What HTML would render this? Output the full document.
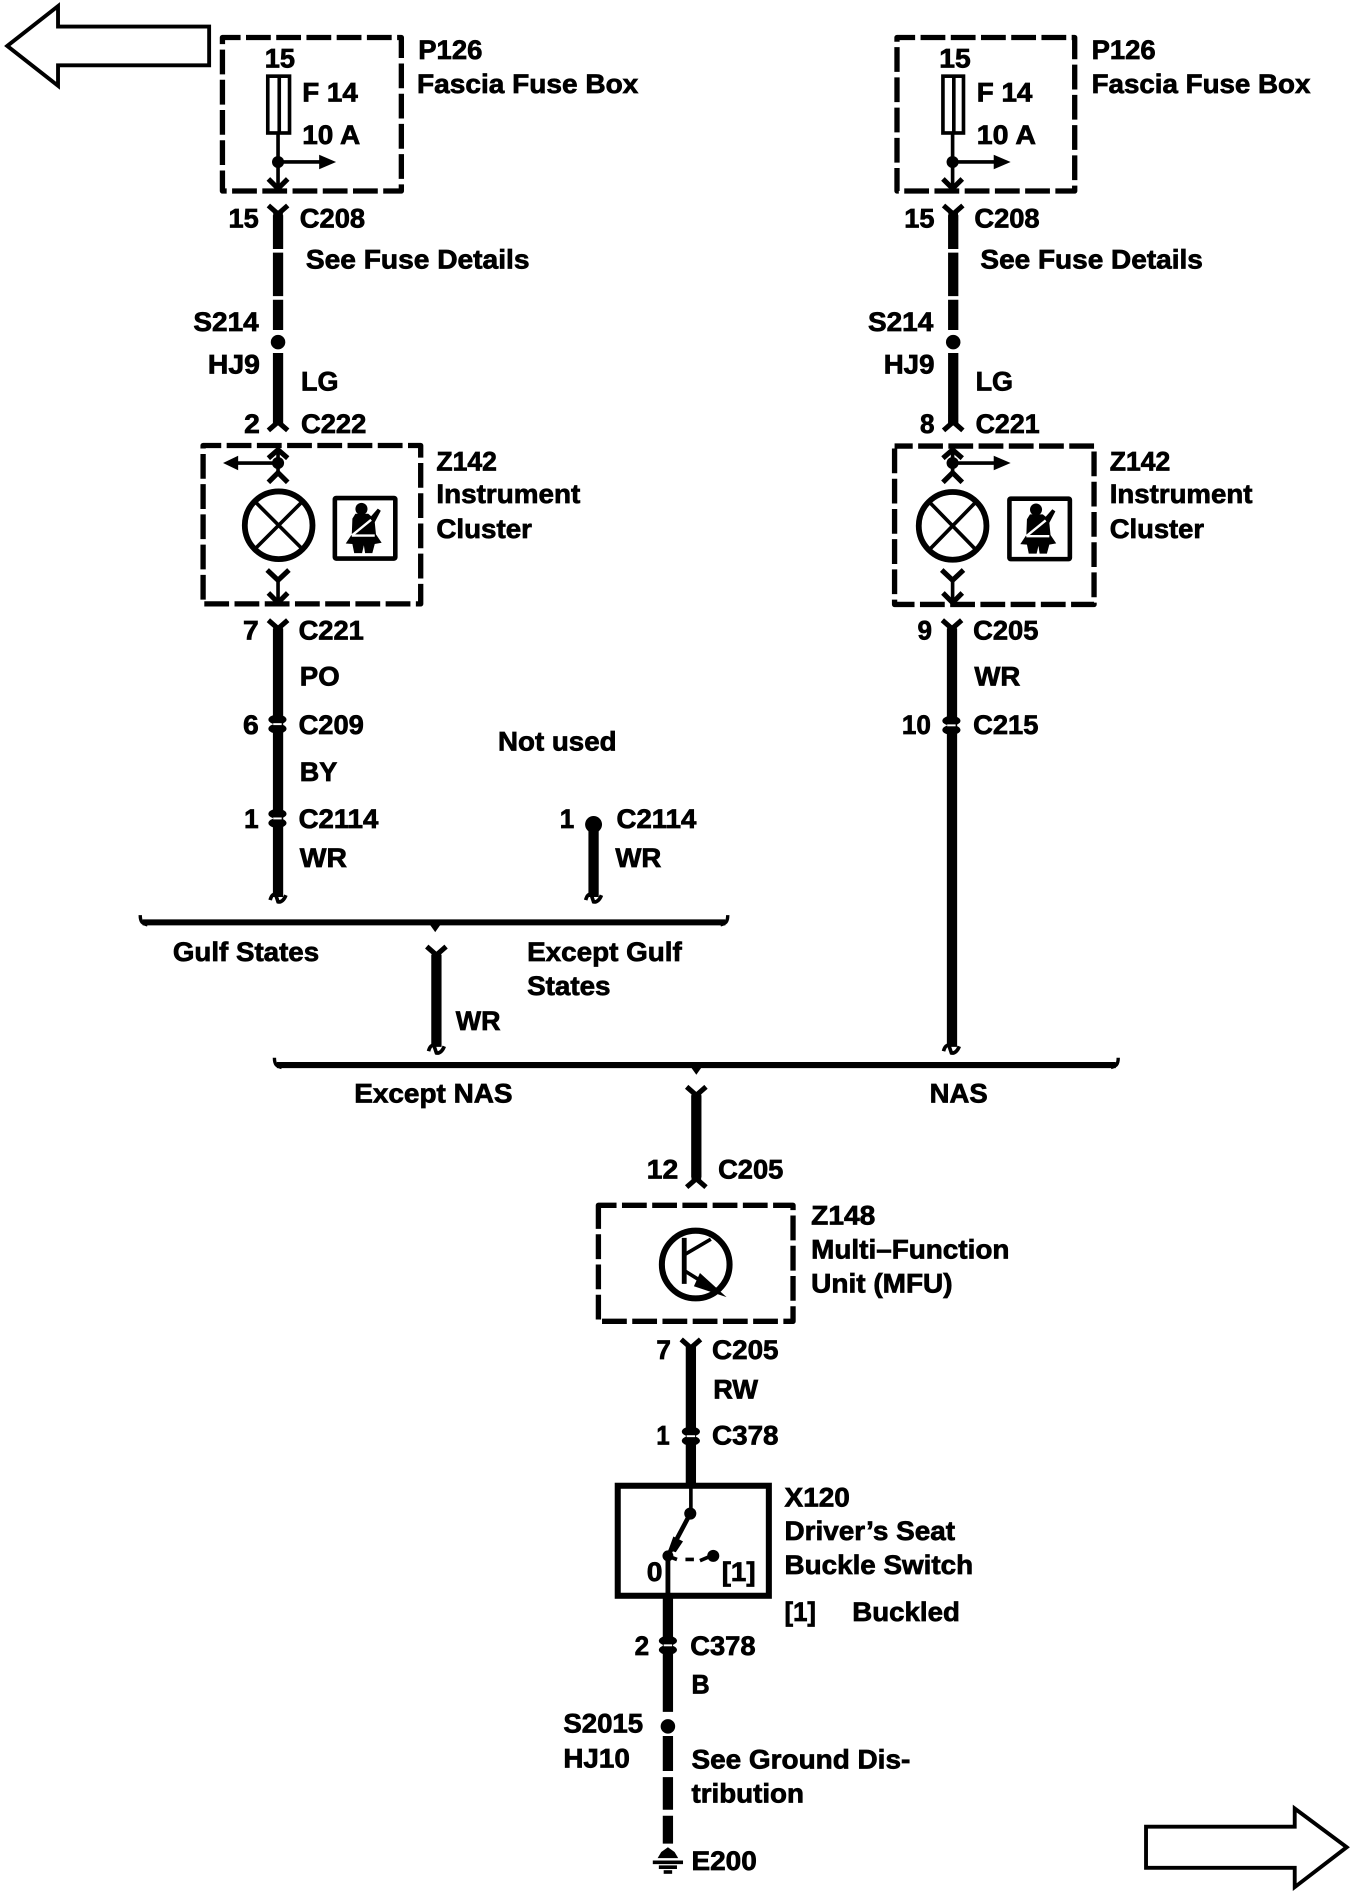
<!DOCTYPE html>
<html><head><meta charset="utf-8"><style>
html,body{margin:0;padding:0;background:#fff}
svg{display:block}
text{font-family:"Liberation Sans",sans-serif;font-weight:bold;font-size:22px;fill:#000;stroke:#000;stroke-width:.6}
.d{fill:none;stroke:#000;stroke-width:4.4;stroke-dasharray:20.5 4.5;stroke-dashoffset:5.5;stroke-linejoin:round}
.w{stroke:#000;stroke-width:8.5;fill:none}
.t{stroke:#000;stroke-width:3;fill:none}
.f{stroke:#000;stroke-width:4.2;fill:none}
</style></head><body>
<svg width="1360" height="1894" viewBox="0 0 1125 1566.7" preserveAspectRatio="none" xmlns="http://www.w3.org/2000/svg">
<defs>
<g id="yt"><path class="f" d="M-8 0 L0 7 L8 0"/><path d="M-4 5h8v8h-8z"/></g>
<g id="yb"><path class="f" d="M-8 0 L0 -7 L8 0"/><path d="M-4 -5h8v-8h-8z"/></g>
<g id="cn"><ellipse cx="0" cy="-3.800" rx="7.500" ry="4"/><ellipse cx="0" cy="3.800" rx="7.500" ry="4"/><path d="M-3.500 -.8h7v1.600h-7z" fill="#fff"/></g>
<g id="cb"><path d="M-6.500 1.500 C-5.500 -2.500 -3.500 -4 -2 -3 L0 3 C2.500 3.500 5 1.500 6.500 -2.500" fill="none" stroke="#000" stroke-width="3"/></g>
<g id="belt">
<rect x="0" y="0" width="50" height="50" rx="1" fill="#fff" stroke="#000" stroke-width="3.800"/>
<circle cx="22" cy="9" r="5"/>
<path d="M14.500 17 L17 13 L27.600 13 L30 15 L35.500 8.700 L38 10.500 L33 20 L34 30 L38.700 37 L33 38 L31 45.500 L25 45.500 L24 39 L22.500 45.500 L16 45.500 L14.500 38 L9 37.600 L14 30Z"/>
<path d="M14 31 L30 18 M14 31 H33" fill="none" stroke="#fff" stroke-width="2"/>
</g>
</defs>

<path d="M6 38 L48 5 V22 H173 V54 H48 V71 Z" fill="#fff" stroke="#000" stroke-width="3.200"/>
<path d="M1114 1528 L1071 1496 V1511 H948 V1545 H1071 V1561 Z" fill="#fff" stroke="#000" stroke-width="3.200"/>

<!-- left fuse box -->
<rect class="d" x="184" y="31" width="148" height="127"/>
<rect x="221.500" y="63" width="18" height="47" fill="#fff" stroke="#000" stroke-width="3"/>
<path class="t" d="M231 63V110M230 110V156"/>
<circle cx="230" cy="134" r="5"/>
<path class="t" d="M230 134H266"/><path d="M264 128 L278 134 L264 140Z"/>
<path class="f" d="M222 148 L230 156 L238 148"/>
<!-- right fuse box -->
<rect class="d" x="742" y="31" width="147" height="127"/>
<rect x="780" y="63" width="17" height="47" fill="#fff" stroke="#000" stroke-width="3"/>
<path class="t" d="M789 63V110M788 110V156"/>
<circle cx="788" cy="134" r="5"/>
<path class="t" d="M788 134H824"/><path d="M822 128 L836 134 L822 140Z"/>
<path class="f" d="M780 148 L788 156 L796 148"/>

<!-- left top wire -->
<use href="#yt" x="230" y="170"/>
<path class="w" d="M230 178V206M230 209V245M230 248V273M230 292V352"/>
<circle cx="230" cy="283" r="6"/>
<use href="#yb" x="230" y="356"/>
<!-- right top wire -->
<use href="#yt" x="788.500" y="170"/>
<path class="w" d="M788.500 178V206M788.500 209V245M788.500 248V273M788.500 292V352"/>
<circle cx="788.500" cy="283" r="6"/>
<use href="#yb" x="788.500" y="356"/>

<!-- Z142 left -->
<rect class="d" x="168" y="368.500" width="180" height="131"/>
<path class="f" d="M222 379 L230 372 L238 379"/>
<path class="t" d="M230 372V392"/>
<circle cx="230" cy="383" r="5"/>
<path class="f" d="M222 399 L230 391 L238 399"/>
<path class="t" d="M230 383H195"/><path d="M197 377 L184.500 383 L197 389Z"/>
<circle cx="230.500" cy="434.500" r="28" fill="#fff" stroke="#000" stroke-width="4.800"/>
<path class="t" d="M211 415 L250 454 M250 415 L211 454"/>
<use href="#belt" x="277" y="412"/>
<path class="f" d="M221 471.500 L230 480 L239 471.500"/>
<path class="t" d="M230 480V498"/>
<path class="f" d="M222 490.500 L230 498.500 L238 490.500"/>
<!-- Z142 right -->
<rect class="d" x="740" y="369" width="165" height="131"/>
<path class="f" d="M780 379 L788 372 L796 379"/>
<path class="t" d="M788 372V392"/>
<circle cx="788" cy="383" r="5"/>
<path class="f" d="M780 399 L788 391 L796 399"/>
<path class="t" d="M788 383H824"/><path d="M822 377 L836 383 L822 389Z"/>
<circle cx="788" cy="435" r="28" fill="#fff" stroke="#000" stroke-width="4.800"/>
<path class="t" d="M769 415.500 L807 454.500 M807 415.500 L769 454.500"/>
<use href="#belt" x="835" y="412.500"/>
<path class="f" d="M779 471.500 L788 480 L797 471.500"/>
<path class="t" d="M788 480V498"/>
<path class="f" d="M780 490.500 L788 498.500 L796 490.500"/>

<!-- lower left -->
<use href="#yt" x="230" y="513"/>
<path class="w" d="M230 520V742" stroke-width="8"/>
<use href="#cn" x="229.500" y="599"/>
<use href="#cn" x="229.500" y="677"/>
<use href="#cb" x="230" y="743"/>
<circle cx="491" cy="682" r="7"/>
<path class="w" d="M491 682V742" stroke-width="8"/>
<use href="#cb" x="491" y="743"/>

<!-- lower right -->
<use href="#yt" x="787.500" y="513"/>
<path class="w" d="M787.500 520V866" stroke-width="8"/>
<use href="#cn" x="787" y="600"/>
<use href="#cb" x="787" y="868"/>

<!-- bus 1 -->
<path d="M116 757 C116 763 118 764 122 765" fill="none" stroke="#000" stroke-width="2.800"/>
<path d="M602 757 C602 763 600 764 596 765" fill="none" stroke="#000" stroke-width="2.800"/>
<path d="M118 763H600" stroke="#000" stroke-width="5"/>
<path d="M355 764 L360 771 L365 764Z"/>
<use href="#yt" x="361" y="783"/>
<path class="w" d="M361 790V866" stroke-width="7.500"/>
<use href="#cb" x="361" y="868"/>

<!-- bus 2 -->
<path d="M227 875 C227 881 229 882 233 883" fill="none" stroke="#000" stroke-width="2.800"/>
<path d="M925 875 C925 881 923 882 919 883" fill="none" stroke="#000" stroke-width="2.800"/>
<path d="M229 881H923" stroke="#000" stroke-width="5"/>
<path d="M571 882 L576 889 L581 882Z"/>
<use href="#yt" x="576" y="899"/>
<path class="w" d="M576 906V974"/>
<use href="#yb" x="576" y="982"/>

<!-- Z148 -->
<rect class="d" x="495" y="997" width="161" height="96"/>
<circle cx="575.500" cy="1046" r="28" fill="#fff" stroke="#000" stroke-width="5"/>
<path d="M564 1024h4v38h-4z"/>
<path class="t" d="M566 1038 L588 1025 M566 1051 L590 1066"/>
<path d="M579 1053 L601 1073 L574 1064Z"/>

<use href="#yt" x="571.500" y="1108"/>
<path class="w" d="M571.500 1114V1228"/>
<use href="#cn" x="571.500" y="1188"/>

<!-- switch -->
<rect x="511" y="1229" width="125" height="91" fill="#fff" stroke="#000" stroke-width="5"/>
<path d="M567.500 1226h8v4h-8z"/>
<path class="t" d="M571.500 1230V1252"/>
<circle cx="571" cy="1252" r="5"/>
<path d="M571 1252 L553 1286" stroke="#000" stroke-width="3.800"/>
<path d="M557 1271 L565 1275 L559 1284 L553 1282Z"/>
<circle cx="552.500" cy="1287" r="4.500"/>
<path d="M552 1287 L560 1290 M567 1290 H574 M579 1291 L586 1288" stroke="#000" stroke-width="3" fill="none"/>
<circle cx="590" cy="1287" r="5"/>
<path d="M552.500 1287V1320" stroke="#000" stroke-width="4"/>

<path class="w" d="M552.500 1322V1416"/>
<use href="#cn" x="552.500" y="1361"/>
<circle cx="552.500" cy="1428" r="6"/>
<path class="w" d="M552.500 1436V1465M552.500 1470V1497M552.500 1502V1525"/>
<!-- ground -->
<path d="M552.500 1528 L558 1532 L561 1537 H544 L547 1532Z"/>
<path d="M540 1540.500H565" stroke="#000" stroke-width="3"/>
<path d="M545 1544.500H560" stroke="#000" stroke-width="3"/>
<path d="M549 1548.500H556" stroke="#000" stroke-width="3"/>

<!-- labels left -->
<text x="346" y="49" textLength="53" lengthAdjust="spacingAndGlyphs">P126</text>
<text x="345" y="77" textLength="183" lengthAdjust="spacingAndGlyphs">Fascia Fuse Box</text>
<text x="219" y="56" textLength="25" lengthAdjust="spacingAndGlyphs">15</text>
<text x="250" y="84" textLength="46" lengthAdjust="spacingAndGlyphs">F 14</text>
<text x="250" y="119" textLength="48" lengthAdjust="spacingAndGlyphs">10 A</text>
<text x="189" y="188" textLength="25" lengthAdjust="spacingAndGlyphs">15</text>
<text x="248" y="188" textLength="54" lengthAdjust="spacingAndGlyphs">C208</text>
<text x="253" y="222" textLength="185" lengthAdjust="spacingAndGlyphs">See Fuse Details</text>
<text x="160" y="274" textLength="54" lengthAdjust="spacingAndGlyphs">S214</text>
<text x="172" y="309" textLength="43" lengthAdjust="spacingAndGlyphs">HJ9</text>
<text x="249" y="323" textLength="31" lengthAdjust="spacingAndGlyphs">LG</text>
<text x="202" y="358" textLength="13" lengthAdjust="spacingAndGlyphs">2</text>
<text x="249" y="358" textLength="54" lengthAdjust="spacingAndGlyphs">C222</text>
<text x="361" y="389" textLength="50" lengthAdjust="spacingAndGlyphs">Z142</text>
<text x="361" y="416" textLength="119" lengthAdjust="spacingAndGlyphs">Instrument</text>
<text x="361" y="445" textLength="79" lengthAdjust="spacingAndGlyphs">Cluster</text>
<text x="201" y="529" textLength="13" lengthAdjust="spacingAndGlyphs">7</text>
<text x="247" y="529" textLength="54" lengthAdjust="spacingAndGlyphs">C221</text>
<text x="248" y="567" textLength="33" lengthAdjust="spacingAndGlyphs">PO</text>
<text x="201" y="607" textLength="13" lengthAdjust="spacingAndGlyphs">6</text>
<text x="247" y="607" textLength="54" lengthAdjust="spacingAndGlyphs">C209</text>
<text x="412" y="621" textLength="98" lengthAdjust="spacingAndGlyphs">Not used</text>
<text x="248" y="646" textLength="31" lengthAdjust="spacingAndGlyphs">BY</text>
<text x="202" y="685" textLength="12" lengthAdjust="spacingAndGlyphs">1</text>
<text x="247" y="685" textLength="66" lengthAdjust="spacingAndGlyphs">C2114</text>
<text x="248" y="717" textLength="39" lengthAdjust="spacingAndGlyphs">WR</text>
<text x="463" y="685" textLength="12" lengthAdjust="spacingAndGlyphs">1</text>
<text x="510" y="685" textLength="66" lengthAdjust="spacingAndGlyphs">C2114</text>
<text x="509" y="717" textLength="38" lengthAdjust="spacingAndGlyphs">WR</text>
<text x="143" y="795" textLength="121" lengthAdjust="spacingAndGlyphs">Gulf States</text>
<text x="436" y="795" textLength="128" lengthAdjust="spacingAndGlyphs">Except Gulf</text>
<text x="436" y="823" textLength="69" lengthAdjust="spacingAndGlyphs">States</text>
<text x="377" y="852" textLength="37" lengthAdjust="spacingAndGlyphs">WR</text>
<text x="293" y="912" textLength="131" lengthAdjust="spacingAndGlyphs">Except NAS</text>
<text x="769" y="912" textLength="48" lengthAdjust="spacingAndGlyphs">NAS</text>
<text x="535" y="975" textLength="26" lengthAdjust="spacingAndGlyphs">12</text>
<text x="594" y="975" textLength="54" lengthAdjust="spacingAndGlyphs">C205</text>
<text x="671" y="1013" textLength="53" lengthAdjust="spacingAndGlyphs">Z148</text>
<text x="671" y="1041" textLength="164" lengthAdjust="spacingAndGlyphs">Multi–Function</text>
<text x="671" y="1069" textLength="117" lengthAdjust="spacingAndGlyphs">Unit (MFU)</text>
<text x="543" y="1124" textLength="12" lengthAdjust="spacingAndGlyphs">7</text>
<text x="589" y="1124" textLength="55" lengthAdjust="spacingAndGlyphs">C205</text>
<text x="590" y="1157" textLength="37" lengthAdjust="spacingAndGlyphs">RW</text>
<text x="543" y="1195" textLength="11" lengthAdjust="spacingAndGlyphs">1</text>
<text x="589" y="1195" textLength="55" lengthAdjust="spacingAndGlyphs">C378</text>
<text x="649" y="1246" textLength="54" lengthAdjust="spacingAndGlyphs">X120</text>
<text x="649" y="1274" textLength="141" lengthAdjust="spacingAndGlyphs">Driver’s Seat</text>
<text x="649" y="1302" textLength="156" lengthAdjust="spacingAndGlyphs">Buckle Switch</text>
<text x="649" y="1341" textLength="26" lengthAdjust="spacingAndGlyphs">[1]</text>
<text x="705" y="1341" textLength="89" lengthAdjust="spacingAndGlyphs">Buckled</text>
<text x="535" y="1308" textLength="13" lengthAdjust="spacingAndGlyphs">0</text>
<text x="597" y="1308" textLength="28" lengthAdjust="spacingAndGlyphs">[1]</text>
<text x="525" y="1369" textLength="12" lengthAdjust="spacingAndGlyphs">2</text>
<text x="571" y="1369" textLength="54" lengthAdjust="spacingAndGlyphs">C378</text>
<text x="572" y="1401" textLength="15" lengthAdjust="spacingAndGlyphs">B</text>
<text x="466" y="1433" textLength="66" lengthAdjust="spacingAndGlyphs">S2015</text>
<text x="466" y="1462" textLength="55" lengthAdjust="spacingAndGlyphs">HJ10</text>
<text x="572" y="1463" textLength="181" lengthAdjust="spacingAndGlyphs">See Ground Dis-</text>
<text x="572" y="1491" textLength="93" lengthAdjust="spacingAndGlyphs">tribution</text>
<text x="572" y="1547" textLength="54" lengthAdjust="spacingAndGlyphs">E200</text>

<!-- labels right -->
<text x="903" y="49" textLength="53" lengthAdjust="spacingAndGlyphs">P126</text>
<text x="903" y="77" textLength="181" lengthAdjust="spacingAndGlyphs">Fascia Fuse Box</text>
<text x="777" y="56" textLength="26" lengthAdjust="spacingAndGlyphs">15</text>
<text x="808" y="84" textLength="46" lengthAdjust="spacingAndGlyphs">F 14</text>
<text x="808" y="119" textLength="49" lengthAdjust="spacingAndGlyphs">10 A</text>
<text x="748" y="188" textLength="25" lengthAdjust="spacingAndGlyphs">15</text>
<text x="806" y="188" textLength="54" lengthAdjust="spacingAndGlyphs">C208</text>
<text x="811" y="222" textLength="184" lengthAdjust="spacingAndGlyphs">See Fuse Details</text>
<text x="718" y="274" textLength="54" lengthAdjust="spacingAndGlyphs">S214</text>
<text x="731" y="309" textLength="42" lengthAdjust="spacingAndGlyphs">HJ9</text>
<text x="807" y="323" textLength="31" lengthAdjust="spacingAndGlyphs">LG</text>
<text x="761" y="358" textLength="12" lengthAdjust="spacingAndGlyphs">8</text>
<text x="807" y="358" textLength="53" lengthAdjust="spacingAndGlyphs">C221</text>
<text x="918" y="389" textLength="50" lengthAdjust="spacingAndGlyphs">Z142</text>
<text x="918" y="416" textLength="118" lengthAdjust="spacingAndGlyphs">Instrument</text>
<text x="918" y="445" textLength="78" lengthAdjust="spacingAndGlyphs">Cluster</text>
<text x="759" y="529" textLength="12" lengthAdjust="spacingAndGlyphs">9</text>
<text x="805" y="529" textLength="54" lengthAdjust="spacingAndGlyphs">C205</text>
<text x="806" y="567" textLength="38" lengthAdjust="spacingAndGlyphs">WR</text>
<text x="746" y="607" textLength="24" lengthAdjust="spacingAndGlyphs">10</text>
<text x="805" y="607" textLength="54" lengthAdjust="spacingAndGlyphs">C215</text>
</svg>
</body></html>
